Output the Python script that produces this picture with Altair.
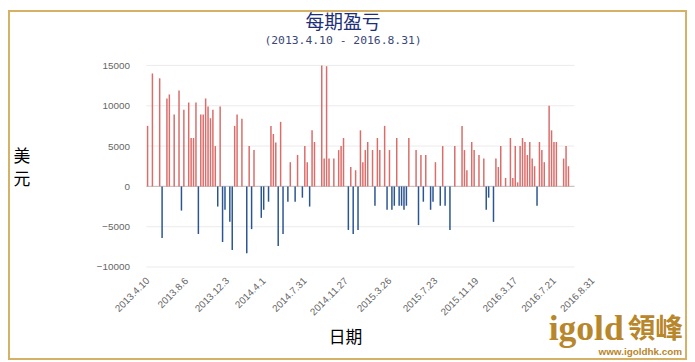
import altair as alt
import pandas as pd

# ---- data (period index -> profit/loss in USD) ----
periods = [0, 2, 5, 6, 8, 9, 11, 13, 14, 15, 17, 18, 19, 20, 21, 22, 23, 24, 25, 26, 27, 28,
           29, 30, 31, 32, 34, 35, 36, 37, 39, 41, 42, 43, 44, 47, 48, 50, 51, 52, 53, 54, 55, 56, 58,
           59, 61, 62, 64, 65, 66, 67, 68, 69, 72, 73, 74, 75, 77, 79, 80, 81, 83, 84, 85, 86, 87, 88,
           89, 90, 91, 93, 94, 95, 96, 98, 99, 100, 101, 102, 103, 104, 105, 106, 107, 108, 111, 112,
           113, 114, 115, 117, 118, 119, 121, 122, 123, 125, 127, 130, 131, 132, 134, 135, 137, 139,
           140, 141, 143, 144, 145, 146, 148, 150, 151, 152, 153, 154, 155, 156, 157, 158, 159, 160,
           161, 162, 163, 164, 166, 167, 168, 169, 172, 173, 174]
pnl = [7500, 14000, 13400, -6400, 10900, 11400, 8900, 11900, -3000, 9500, 10400, 6000, 6000, 10400,
       -5900, 8900, 8900, 10900, 9900, 8450, 9500, 5000,
       -2500, 9900, -6900, -2900, -4400, -7900, 7500, 8900, 8400, -8300, 5000, -5300, 4500, -3900,
       -2900, -1900, 7500, 6500, 5450, -7400, 8000, -5900, -1900,
       3000, -1900, 3900, -1400, 5000, 3000, -2500, 6950, 5500, 15000, 3450, 14900, 3450, 3450, 4500,
       5000, 6000, -5400, 2400, -5900, 2000, -5400, 6950,
       3000, 4500, 5500, 4500, -2400, 6000, 4500, 7500, -2900, 4500, -2900, -2400, 6000, -2400, -2400,
       -2900, -2400, 6000, 4500, -4800,
       3900, -1900, 3900, -2900, -1900, 3000, -2400, 5000, -2400, -5400, 5000, 7500, 4500, 2000, 5500,
       4500, 3900, 3450,
       -2900, -1400, -4400, 3450, 2400, 5000, 1050, 6000, 1050, 5000, 500, 5000, 6000, 5500, 3900, 5500,
       3450, 2500,
       -2400, 5500, 4500, 3000, 10000, 6950, 5500, 5500, 3450, 5000, 2500]

tick_pos = [0, 16, 33, 48, 65, 82, 100, 119, 136, 152, 168, 184]
tick_labels = ["2013.4.10", "2013.8.6", "2013.12.3", "2014.4.1", "2014.7.31", "2014.11.27",
               "2015.3.26", "2015.7.23", "2015.11.19", "2016.3.17", "2016.7.21", "2016.8.31"]
y_ticks = [-10000, -5000, 0, 5000, 10000, 15000]
grid_vals = [-10000, -5000, 5000, 10000, 15000]
first_period, last_period = -0.5, 176.5

title_text = "每期盈亏"
subtitle_text = "(2013.4.10 - 2016.8.31)"
y_title = "美元"
x_title = "日期"

df = pd.DataFrame({"period": periods, "pnl": pnl})
df["sign"] = ["gain" if v >= 0 else "loss" for v in pnl]

W, H = 464, 204
PL, PT, PR, PB = 135, 56, 88, 94

xscale = alt.Scale(domain=[-0.5, 185], nice=False, zero=False)
yscale = alt.Scale(domain=[-10000, 15000], nice=False)

label_expr = ("[" + ",".join(f"'{s}'" for s in tick_labels) + "][indexof(["
              + ",".join(str(v) for v in tick_pos) + "], datum.value)]")

x_axis = alt.Axis(values=tick_pos, labelExpr=label_expr, labelAngle=-45,
                  labelAlign="right", labelBaseline="middle", labelFontSize=10,
                  labelColor="#666666", labelFont="Liberation Sans", grid=False,
                  domain=False, ticks=False, labelPadding=12, labelOverlap=False,
                  labelFlush=False, title=x_title, titleFont="Noto Sans CJK SC",
                  titleFontSize=17, titleFontWeight="normal", titleColor="#000000",
                  titleX=206, titleY=71, titleBaseline="middle", titleAlign="center")
y_axis = alt.Axis(values=y_ticks, format="d", grid=False, domain=False, ticks=False,
                  labelFontSize=10, labelColor="#666666", labelFont="Liberation Sans",
                  labelPadding=12, title=None)

grid_df = pd.DataFrame({"y": grid_vals, "x0": [first_period] * len(grid_vals),
                        "x1": [last_period] * len(grid_vals)})
grid = alt.Chart(grid_df).mark_rule(color="#ebebeb", strokeWidth=1).encode(
    x=alt.X("x0:Q", scale=xscale, axis=x_axis), x2="x1:Q",
    y=alt.Y("y:Q", scale=yscale, axis=y_axis))

zero_df = pd.DataFrame({"y": [0], "x0": [first_period], "x1": [last_period]})
zero = alt.Chart(zero_df).mark_rule(color="#c6c6c6", strokeWidth=1.5).encode(
    x=alt.X("x0:Q", scale=xscale, axis=x_axis), x2="x1:Q",
    y=alt.Y("y:Q", scale=yscale, axis=y_axis))

bars = alt.Chart(df).mark_bar(size=1.5).encode(
    x=alt.X("period:Q", scale=xscale, axis=x_axis),
    y=alt.Y("pnl:Q", scale=yscale, axis=y_axis),
    color=alt.Color("sign:N", scale=alt.Scale(domain=["gain", "loss"],
                                              range=["#da6c69", "#2a5592"]), legend=None),
)

one = pd.DataFrame({"t": [0]})

title = alt.Chart(pd.DataFrame({"t": [title_text]})).mark_text(
    font="Noto Sans CJK SC", fontSize=19, color="#1c2f78", baseline="middle", align="center"
).encode(text="t:N", x=alt.value(204), y=alt.value(-43))

subtitle = alt.Chart(pd.DataFrame({"t": [subtitle_text]})).mark_text(
    font="DejaVu Sans Mono", fontSize=11.5, color="#3a4777", baseline="middle", align="center"
).encode(text="t:N", x=alt.value(204), y=alt.value(-25))

ytitle = alt.Chart(pd.DataFrame({"t": ["\n".join(y_title)]})).mark_text(
    font="Noto Sans CJK SC", fontSize=17, color="#000000", baseline="middle", align="center",
    lineBreak="\n", lineHeight=23
).encode(text="t:N", x=alt.value(-121), y=alt.value(93))

logo1 = alt.Chart(pd.DataFrame({"t": ["igold"]})).mark_text(
    font="Liberation Serif", fontSize=36, fontWeight="bold", color="#b8862b",
    baseline="alphabetic", align="left"
).encode(text="t:N", x=alt.value(412), y=alt.value(278))

logo2 = alt.Chart(pd.DataFrame({"t": ["領峰"]})).mark_text(
    font="Noto Sans CJK TC", fontSize=28, fontWeight="bold", color="#b8862b",
    baseline="alphabetic", align="left"
).encode(text="t:N", x=alt.value(492), y=alt.value(276))

logo3 = alt.Chart(pd.DataFrame({"t": ["www.igoldhk.com"]})).mark_text(
    font="Liberation Sans", fontSize=10, fontWeight="bold", color="#b8862b",
    baseline="alphabetic", align="right"
).encode(text="t:N", x=alt.value(547), y=alt.value(293))

border = alt.Chart(one).mark_rect(fillOpacity=0, stroke="#d6b065", strokeWidth=2).encode(
    x=alt.value(-PL + 1), x2=alt.value(W + PR - 1),
    y=alt.value(-PT + 1), y2=alt.value(H + PB - 1))

chart = alt.layer(grid, zero, bars, title, subtitle, ytitle, logo1, logo2, logo3, border).properties(
    width=W, height=H,
    autosize=alt.AutoSizeParams(type="none"),
    padding={"left": PL, "top": PT, "right": PR, "bottom": PB},
    background="#ffffff",
).configure_view(strokeOpacity=0)

chart.save("out.html", embed_options={"renderer": "svg", "actions": False})
